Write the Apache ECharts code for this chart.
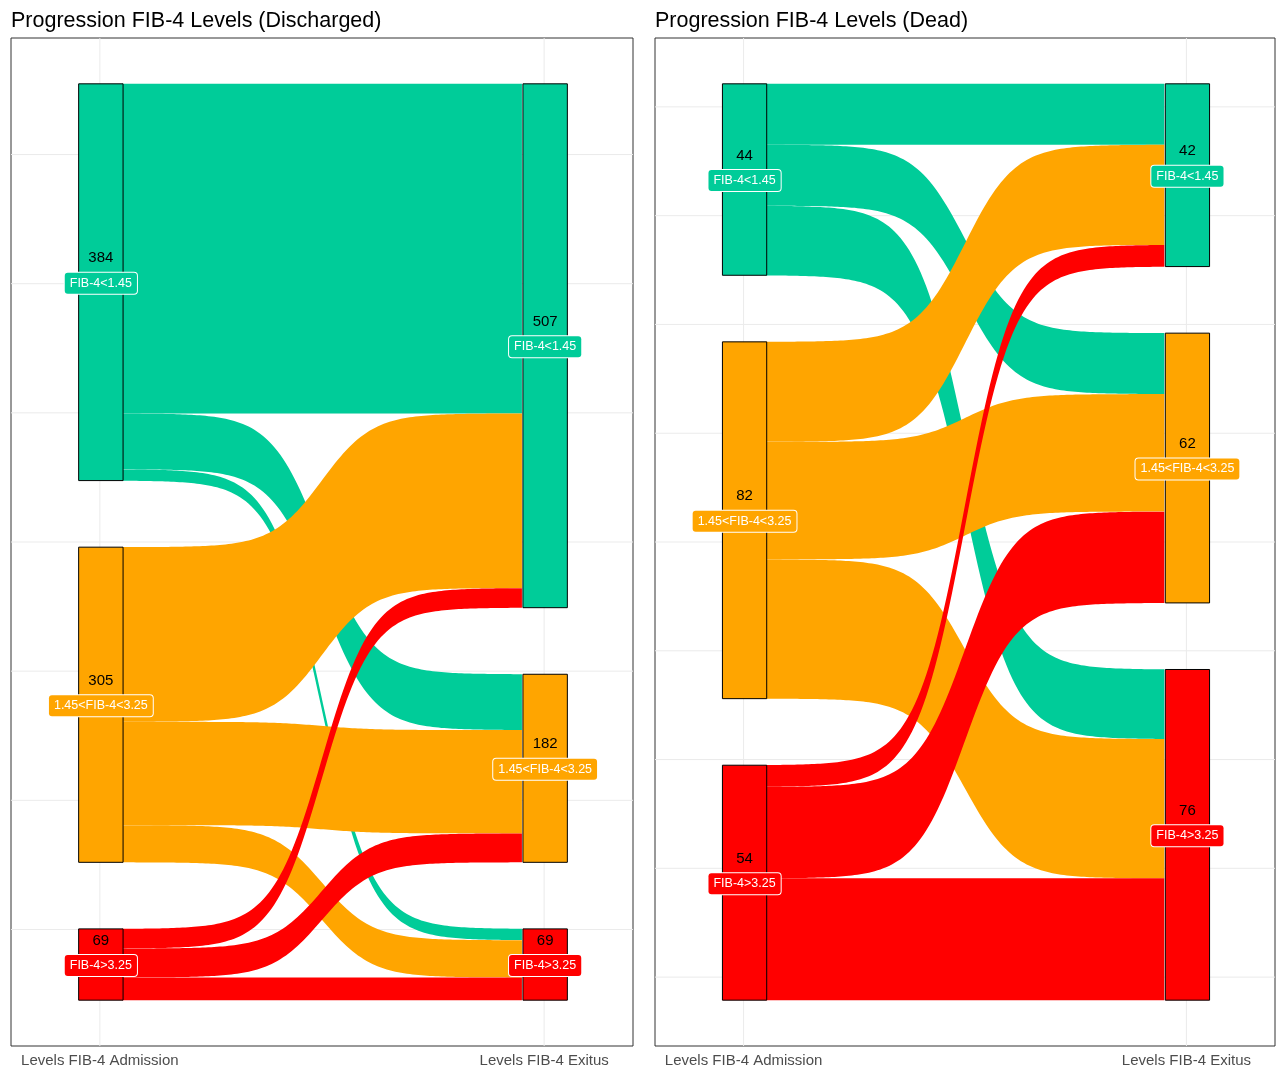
<!DOCTYPE html>
<html>
<head>
<meta charset="utf-8">
<title>Progression FIB-4 Levels</title>
<script src="https://cdn.jsdelivr.net/npm/echarts@6/dist/echarts.min.js"></script>
<style>
  html, body { margin: 0; padding: 0; background: #ffffff; }
  #chart { width: 1277px; height: 1070px; }
</style>
</head>
<body>
<div id="chart"></div>
<script>
// FIB-4 categories and the two time points
const levels = ['FIB-4<1.45', '1.45<FIB-4<3.25', 'FIB-4>3.25'];
const stages = ['Levels FIB-4 Admission', 'Levels FIB-4 Exitus'];
const panelTitles = ['Progression FIB-4 Levels (Discharged)', 'Progression FIB-4 Levels (Dead)'];

// Patient counts: rows = level at admission, columns = level at exitus
const dischargedFlows = [
  [319, 54, 11],
  [169, 100, 36],
  [19, 28, 22]
];
const deadFlows = [
  [14, 14, 16],
  [23, 27, 32],
  [5, 21, 28]
];

// Horizontal reference lines (y units, stacks centred on 0)
const dischargedGridLines = [-375, -250, -125, 0, 125, 250, 375];
const deadGridLines = [-100, -75, -50, -25, 0, 25, 50, 75, 100];
// Vertical reference lines at the two stages
const stagePositions = [1, 2];

const levelColors = ['#00CC99', '#FFA500', '#FF0000'];
const FONT = '"Liberation Sans", Arial, sans-serif';
const NODE_WIDTH = 0.1;     // stratum width in x units
const GAP_RATIO = 0.085;    // vertical space between strata, share of the total
const SMOOTH = 8;           // steepness of the sigmoid ribbons
const STEPS = 140;

function sum(a) { return a.reduce((s, v) => s + v, 0); }

// Stack strata from the top, centred on zero, and place each ribbon inside them
function buildLayout(flows) {
  const n = levels.length;
  const inTotals = flows.map(r => sum(r));
  const outTotals = levels.map((_, j) => sum(flows.map(r => r[j])));
  const total = sum(inTotals);
  const gap = total * GAP_RATIO;
  const half = (total + (n - 1) * gap) / 2;

  const inTop = [], outTop = [];
  let a = half, b = half;
  for (let i = 0; i < n; i++) {
    inTop.push(a); a -= inTotals[i] + gap;
    outTop.push(b); b -= outTotals[i] + gap;
  }

  const nodes = [];
  for (let i = 0; i < n; i++) {
    nodes.push([stagePositions[0], inTop[i], inTop[i] - inTotals[i], i, inTotals[i]]);
  }
  for (let j = 0; j < n; j++) {
    nodes.push([stagePositions[1], outTop[j], outTop[j] - outTotals[j], j, outTotals[j]]);
  }

  const ribbons = [];
  for (let i = 0; i < n; i++) {
    for (let j = 0; j < n; j++) {
      const v = flows[i][j];
      const sTop = inTop[i] - sum(flows[i].slice(0, j));
      let above = 0;
      for (let k = 0; k < i; k++) above += flows[k][j];
      const dTop = outTop[j] - above;
      ribbons.push([sTop, sTop - v, dTop, dTop - v, i]);
    }
  }
  return { nodes, ribbons, half };
}

function ribbonItem(params, api) {
  const s0 = api.value(0), s1 = api.value(1), d0 = api.value(2), d1 = api.value(3);
  const ci = api.value(4);
  const x0 = stagePositions[0] + NODE_WIDTH / 2;
  const x1 = stagePositions[1] - NODE_WIDTH / 2;
  const top = [], bot = [];
  for (let k = 0; k < STEPS; k++) {
    const f = k / (STEPS - 1);
    const t = -SMOOTH + 2 * SMOOTH * f;
    const w = 1 / (1 + Math.exp(-t));
    const x = x0 + (x1 - x0) * f;
    top.push(api.coord([x, s0 + (d0 - s0) * w]));
    bot.push(api.coord([x, s1 + (d1 - s1) * w]));
  }
  return {
    type: 'polygon',
    shape: { points: top.concat(bot.reverse()) },
    style: { fill: levelColors[ci] },
    silent: true
  };
}

function nodeItem(params, api) {
  const x = api.value(0), yTop = api.value(1), yBot = api.value(2);
  const ci = api.value(3), total = api.value(4);
  const p0 = api.coord([x - NODE_WIDTH / 2, yTop]);
  const p1 = api.coord([x + NODE_WIDTH / 2, yBot]);
  const cx = (p0[0] + p1[0]) / 2, cy = (p0[1] + p1[1]) / 2;
  return {
    type: 'group',
    children: [
      {
        type: 'rect',
        shape: { x: p0[0] + 1, y: p0[1], width: p1[0] - p0[0], height: p1[1] - p0[1] },
        style: { fill: levelColors[ci], stroke: '#000000', lineWidth: 1 }
      },
      {
        type: 'text',
        x: cx + 1, y: cy - 24,
        style: {
          text: String(total), fill: '#000000', font: '15px ' + FONT,
          align: 'center', verticalAlign: 'middle'
        }
      },
      {
        type: 'text',
        x: cx + 1, y: cy + 1,
        style: {
          text: levels[ci], fill: '#ffffff', font: '12.5px ' + FONT,
          align: 'center', verticalAlign: 'middle',
          backgroundColor: levelColors[ci], borderColor: '#ffffff', borderWidth: 1,
          borderRadius: 3, padding: [4, 5, 4, 5]
        }
      }
    ]
  };
}

function gridLineItem(half) {
  return function (params, api) {
    const horizontal = api.value(0) === 0;
    const v = api.value(1);
    let a, b;
    if (horizontal) {
      a = api.coord([0.8, v]); b = api.coord([2.2, v]);
    } else {
      a = api.coord([v, -1.1 * half]); b = api.coord([v, 1.1 * half]);
    }
    return {
      type: 'line',
      shape: { x1: a[0], y1: a[1], x2: b[0], y2: b[1] },
      style: { stroke: '#ebebeb', lineWidth: 1 },
      silent: true
    };
  };
}

function stageLabelItem(half) {
  return function (params, api) {
    const i = api.value(0);
    const p = api.coord([stagePositions[i], -1.1 * half]);
    return {
      type: 'text',
      x: p[0], y: p[1] + 15,
      style: {
        text: stages[i], fill: '#4d4d4d', font: '15px ' + FONT,
        align: 'center', verticalAlign: 'middle'
      }
    };
  };
}

const panels = [buildLayout(dischargedFlows), buildLayout(deadFlows)];
const gridLines = [dischargedGridLines, deadGridLines];

const grids = [
  { left: 11, top: 38, width: 622, height: 1008 },
  { left: 655, top: 38, width: 620, height: 1008 }
].map(g => Object.assign(g, { show: true, borderColor: '#333333', borderWidth: 1, backgroundColor: 'transparent' }));

const xAxes = panels.map((p, k) => ({
  type: 'value', gridIndex: k, min: 0.8, max: 2.2,
  axisLine: { show: false }, axisTick: { show: false }, axisLabel: { show: false }, splitLine: { show: false }
}));
const yAxes = panels.map((p, k) => ({
  type: 'value', gridIndex: k, min: -1.1 * p.half, max: 1.1 * p.half,
  axisLine: { show: false }, axisTick: { show: false }, axisLabel: { show: false }, splitLine: { show: false }
}));

const series = [];
panels.forEach((p, k) => {
  const lines = gridLines[k].map(v => [0, v]).concat(stagePositions.map(v => [1, v]));
  series.push({
    type: 'custom', xAxisIndex: k, yAxisIndex: k, silent: true,
    renderItem: gridLineItem(p.half), data: lines
  });
  series.push({
    type: 'custom', xAxisIndex: k, yAxisIndex: k, silent: true,
    renderItem: ribbonItem, data: p.ribbons
  });
  series.push({
    type: 'custom', xAxisIndex: k, yAxisIndex: k, silent: true,
    renderItem: nodeItem, data: p.nodes
  });
  series.push({
    type: 'custom', xAxisIndex: k, yAxisIndex: k, silent: true,
    renderItem: stageLabelItem(p.half), data: stages.map((s, i) => [i])
  });
});

const chart = echarts.init(document.getElementById('chart'), null, { renderer: 'canvas' });
chart.setOption({
  animation: false,
  backgroundColor: '#ffffff',
  title: panelTitles.map((t, k) => ({
    text: t, left: k === 0 ? 6 : 650, top: 5,
    textStyle: { fontFamily: FONT, fontSize: 21.5, fontWeight: 'normal', color: '#000000' }
  })),
  grid: grids,
  xAxis: xAxes,
  yAxis: yAxes,
  series: series
});
</script>
</body>
</html>
